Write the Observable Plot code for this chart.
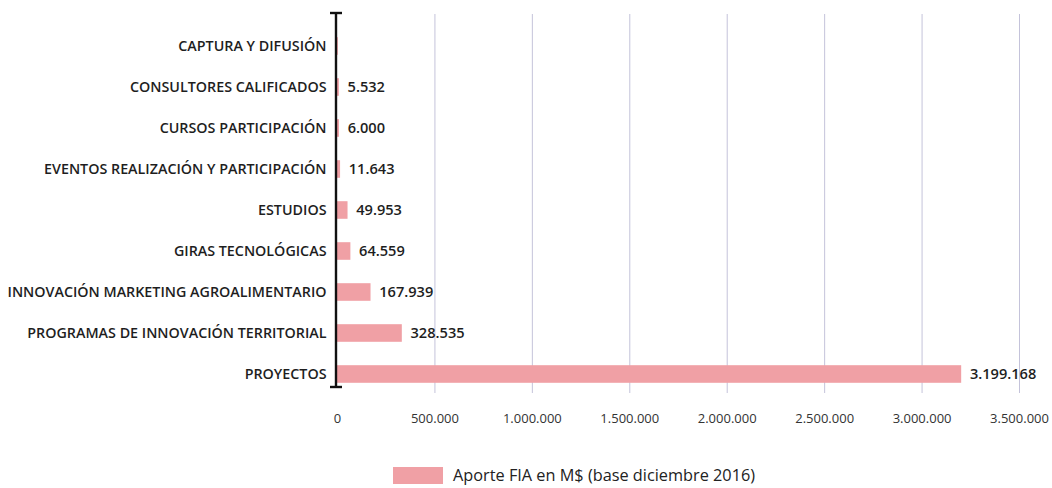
<!DOCTYPE html>
<html>
<head>
<meta charset="utf-8">
<script src="https://cdn.jsdelivr.net/npm/d3@7"></script>
<script src="https://cdn.jsdelivr.net/npm/@observablehq/plot@0.6"></script>
<style>
  body { margin: 0; background: #fff; font-family: "Open Sans", sans-serif; }
  #chart { position: relative; width: 1052px; height: 488px; }
  .legend { position: absolute; left: 393px; top: 466px; display: flex; align-items: center; font-size: 16.3px; line-height: 19px; color: #222; }
  .legend .sw { width: 50px; height: 17px; background: #f0a0a5; margin-right: 10px; }
</style>
</head>
<body>
<div id="chart"></div>
<script>
const categories = [
  "CAPTURA Y DIFUSIÓN",
  "CONSULTORES CALIFICADOS",
  "CURSOS PARTICIPACIÓN",
  "EVENTOS REALIZACIÓN Y PARTICIPACIÓN",
  "ESTUDIOS",
  "GIRAS TECNOLÓGICAS",
  "INNOVACIÓN MARKETING AGROALIMENTARIO",
  "PROGRAMAS DE INNOVACIÓN TERRITORIAL",
  "PROYECTOS"
];
const values = [300, 5532, 6000, 11643, 49953, 64559, 167939, 328535, 3199168];
const valueLabels = ["", "5.532", "6.000", "11.643", "49.953", "64.559", "167.939", "328.535", "3.199.168"];
const xTicks = [0, 500000, 1000000, 1500000, 2000000, 2500000, 3000000, 3500000];
const seriesName = "Aporte FIA en M$ (base diciembre 2016)";

const data = categories.map((c, i) => ({cat: c, value: values[i], label: valueLabels[i]}));
const fmt = d3.formatLocale({decimal: ",", thousands: ".", grouping: [3], currency: ["$", ""]}).format(",d");

const axisLine = (index, scales, values, dims) => {
  const x0 = scales.x(0) - 1;
  const g = d3.create("svg:g");
  const top = 13, bottom = 387;
  g.append("line").attr("x1", x0).attr("x2", x0).attr("y1", top).attr("y2", bottom)
    .attr("stroke", "#111").attr("stroke-width", 2.4);
  [top, bottom].forEach(y => g.append("line").attr("x1", x0 - 6).attr("x2", x0 + 6)
    .attr("y1", y).attr("y2", y).attr("stroke", "#111").attr("stroke-width", 2.4));
  return g.node();
};

const plot = Plot.plot({
  width: 1052,
  height: 440,
  marginLeft: 337,
  marginRight: 33,
  marginTop: 23,
  marginBottom: 44,
  style: {fontFamily: "Open Sans, sans-serif", background: "#fff"},
  x: {domain: [0, 3500000], label: null},
  y: {domain: categories, label: null, paddingInner: 0.61, paddingOuter: 0.3},
  marks: [
    Plot.ruleX(xTicks.slice(1), {stroke: "#c4c3da", strokeWidth: 1, insetTop: -9, insetBottom: 3}),
    Plot.barX(data, {y: "cat", x: "value", fill: "#f0a0a5", stroke: "#f0a0a5", strokeWidth: 1.6}),
    Plot.text(data, {y: "cat", x: "value", text: "label", textAnchor: "start", dx: 9,
      fontSize: 14.6, fontWeight: 600, fill: "#1e1e1e"}),
    Plot.axisX({ticks: xTicks, tickFormat: fmt, tickSize: 0, tickPadding: 17, fontSize: 13, color: "#333", label: null}),
    Plot.axisY({tickSize: 0, tickPadding: 11, fontSize: 14.3, fontWeight: 600, color: "#1e1e1e", label: null}),
    axisLine
  ]
});
const chart = document.getElementById("chart");
chart.appendChild(plot);
const leg = document.createElement("div");
leg.className = "legend";
leg.innerHTML = `<div class="sw"></div><span>${seriesName}</span>`;
chart.appendChild(leg);
</script>
</body>
</html>
